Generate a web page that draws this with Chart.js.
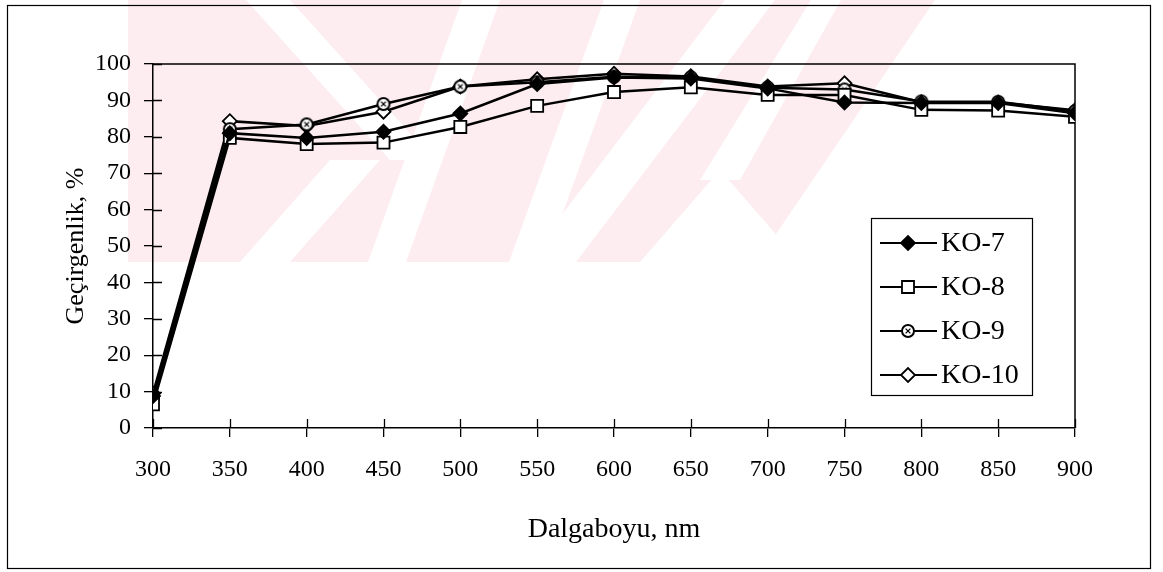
<!DOCTYPE html>
<html><head><meta charset="utf-8">
<script src="https://cdn.jsdelivr.net/npm/chart.js@4.4.0/dist/chart.umd.min.js"></script>
<style>html,body{margin:0;padding:0;background:#fff;}</style>
</head><body>
<canvas id="c" width="1163" height="572"></canvas>
<script>
const wavelengths = [300, 350, 400, 450, 500, 550, 600, 650, 700, 750, 800, 850, 900];
const seriesNames = ['KO-7', 'KO-8', 'KO-9', 'KO-10'];
const ko7  = [8.8, 81.0, 79.7, 81.4, 86.4, 94.5, 96.3, 96.0, 93.3, 89.4, 89.3, 89.3, 86.5];
const ko8  = [6.5, 79.7, 78.0, 78.4, 82.7, 88.5, 92.3, 93.6, 91.5, 91.5, 87.4, 87.2, 85.5];
const ko9  = [8.5, 82.1, 83.4, 89.0, 93.8, 95.0, 96.5, 96.3, 93.5, 93.0, 89.7, 89.6, 87.0];
const ko10 = [9.5, 84.3, 83.0, 86.9, 93.8, 95.8, 97.3, 96.6, 93.8, 94.7, 89.5, 89.4, 87.3];
const yTickValues = [0, 10, 20, 30, 40, 50, 60, 70, 80, 90, 100];
const xTitle = 'Dalgaboyu, nm';
const yTitle = 'Geçirgenlik, %';

const FONT = "'Liberation Serif', 'Times New Roman', serif";

function circleX(r) {
  const s = Math.ceil(r * 2 + 4);
  const cv = document.createElement('canvas');
  cv.width = s; cv.height = s;
  const g = cv.getContext('2d');
  const c = s / 2;
  g.beginPath(); g.arc(c, c, r, 0, Math.PI * 2);
  g.fillStyle = '#fff'; g.fill();
  g.lineWidth = 2; g.strokeStyle = '#000'; g.stroke();
  g.lineWidth = 1.3;
  const d = r * 0.4;
  g.beginPath();
  g.moveTo(c - d, c - d); g.lineTo(c + d, c + d);
  g.moveTo(c + d, c - d); g.lineTo(c - d, c + d);
  g.stroke();
  return cv;
}
const ko9Img = circleX(6);

function pts(arr) { return wavelengths.map((w, i) => ({ x: w, y: arr[i] })); }

const styles = [
  { pointStyle: 'rectRot', pointRadius: 7, pointBackgroundColor: '#000' },
  { pointStyle: 'rect', pointRadius: 8.5, pointBackgroundColor: '#fff' },
  { pointStyle: ko9Img, pointRadius: 6, pointBackgroundColor: '#fff' },
  { pointStyle: 'rectRot', pointRadius: 7, pointBackgroundColor: '#fff' }
];
const values = [ko7, ko8, ko9, ko10];

const datasets = seriesNames.map((n, i) => Object.assign({
  label: n,
  data: pts(values[i]),
  borderColor: '#000',
  borderWidth: 2.5,
  pointBorderColor: '#000',
  pointBorderWidth: 1.8,
  fill: false,
  tension: 0
}, styles[i]));

const decor = {
  id: 'decor',
  beforeDraw(chart) {
    const ctx = chart.ctx;
    ctx.save();
    ctx.fillStyle = '#fff';
    ctx.fillRect(0, 0, chart.width, chart.height);
    ctx.fillStyle = '#fdedf0';
    ctx.beginPath();
    ctx.moveTo(128, 0); ctx.lineTo(935, 0); ctx.lineTo(757, 262); ctx.lineTo(128, 262); ctx.closePath();
    ctx.fill();
    ctx.fillStyle = '#fff';
    const stripe = (x0t, x1t, x0b, x1b, yt, yb) => {
      ctx.beginPath();
      ctx.moveTo(x0t, yt); ctx.lineTo(x1t, yt); ctx.lineTo(x1b, yb); ctx.lineTo(x0b, yb); ctx.closePath(); ctx.fill();
    };
    stripe(246, 290, 390, 434, 0, 160);
    stripe(330, 380, 240, 290, 160, 262);
    stripe(462, 500, 368, 406, 0, 262);
    stripe(604, 640, 509, 545, 0, 262);
    stripe(725, 775, 526, 576, 0, 262);
    stripe(811, 841, 700, 740, 0, 180);
    ctx.beginPath(); ctx.moveTo(720, 170); ctx.lineTo(800, 262); ctx.lineTo(640, 262); ctx.closePath(); ctx.fill();
    ctx.restore();
  },
  beforeDatasetsDraw(chart) {
    const ctx = chart.ctx, a = chart.chartArea;
    const xs = chart.scales.x, ys = chart.scales.y;
    ctx.save();
    ctx.strokeStyle = '#000';
    ctx.lineWidth = 1.5;
    ctx.beginPath();
    ctx.moveTo(a.left, a.top); ctx.lineTo(a.right, a.top); ctx.lineTo(a.right, a.bottom);
    ctx.stroke();
    ctx.lineWidth = 1.3;
    ctx.beginPath();
    yTickValues.forEach(v => { const y = Math.round(ys.getPixelForValue(v)) + 0.5; ctx.moveTo(a.left, y); ctx.lineTo(a.left + 9, y); });
    wavelengths.forEach(v => { const x = Math.round(xs.getPixelForValue(v)) + 0.5; ctx.moveTo(x, a.bottom); ctx.lineTo(x, a.bottom - 9); });
    ctx.stroke();
    ctx.restore();
  },
  afterDraw(chart) {
    const ctx = chart.ctx, a = chart.chartArea;
    ctx.save();
    ctx.strokeStyle = '#000'; ctx.lineWidth = 1.2;
    ctx.strokeRect(7.5, 5.5, 1143, 563);
    ctx.fillStyle = '#000';
    ctx.textAlign = 'center'; ctx.textBaseline = 'middle';
    ctx.font = '28px ' + FONT;
    ctx.fillText(xTitle, (a.left + a.right) / 2, 530);
    ctx.save();
    ctx.translate(76, (a.top + a.bottom) / 2);
    ctx.rotate(-Math.PI / 2);
    ctx.font = '26px ' + FONT;
    ctx.fillText(yTitle, 0, 0);
    ctx.restore();
    const bx = 871, by = 218, bw = 161, bh = 177;
    ctx.fillStyle = '#fff';
    ctx.fillRect(bx, by, bw, bh);
    ctx.strokeStyle = '#000'; ctx.lineWidth = 1.2;
    ctx.strokeRect(bx + 0.5, by + 0.5, bw, bh);
    const rows = [243, 287, 331, 375];
    chart.data.datasets.forEach((ds, i) => {
      const y = rows[i];
      ctx.strokeStyle = '#000'; ctx.lineWidth = 2;
      ctx.beginPath(); ctx.moveTo(880, y); ctx.lineTo(937, y); ctx.stroke();
      ctx.fillStyle = ds.pointBackgroundColor; ctx.strokeStyle = '#000'; ctx.lineWidth = 1.8;
      Chart.helpers.drawPoint(ctx, { pointStyle: ds.pointStyle, radius: ds.pointRadius, rotation: 0, borderWidth: 1.8 }, 908, y);
      ctx.fillStyle = '#000';
      ctx.font = '28px ' + FONT;
      ctx.textAlign = 'left'; ctx.textBaseline = 'middle';
      ctx.fillText(ds.label, 941, y + 1);
    });
    ctx.restore();
  }
};

new Chart(document.getElementById('c'), {
  type: 'line',
  data: { datasets },
  options: {
    responsive: false,
    animation: false,
    events: [],
    layout: { padding: { left: 0, top: 64, right: 88, bottom: 0 } },
    plugins: { legend: { display: false }, tooltip: { enabled: false } },
    scales: {
      x: {
        type: 'linear', min: 300, max: 900,
        afterFit(s) { s.height = 144; },
        afterBuildTicks(s) { s.ticks = wavelengths.map(v => ({ value: v })); },
        grid: { drawOnChartArea: false, drawTicks: true, tickLength: 9, color: '#000', lineWidth: 1.3 },
        border: { display: true, color: '#000', width: 1.5 },
        ticks: { color: '#000', font: { family: FONT, size: 24 }, padding: 18, maxRotation: 0, autoSkip: false }
      },
      y: {
        min: 0, max: 100,
        afterFit(s) { s.width = 153; },
        afterBuildTicks(s) { s.ticks = yTickValues.map(v => ({ value: v })); },
        grid: { drawOnChartArea: false, drawTicks: true, tickLength: 9, color: '#000', lineWidth: 1.3 },
        border: { display: true, color: '#000', width: 1.5 },
        ticks: { color: '#000', font: { family: FONT, size: 24 }, padding: 13 }
      }
    }
  },
  plugins: [decor]
});
</script>
</body></html>
